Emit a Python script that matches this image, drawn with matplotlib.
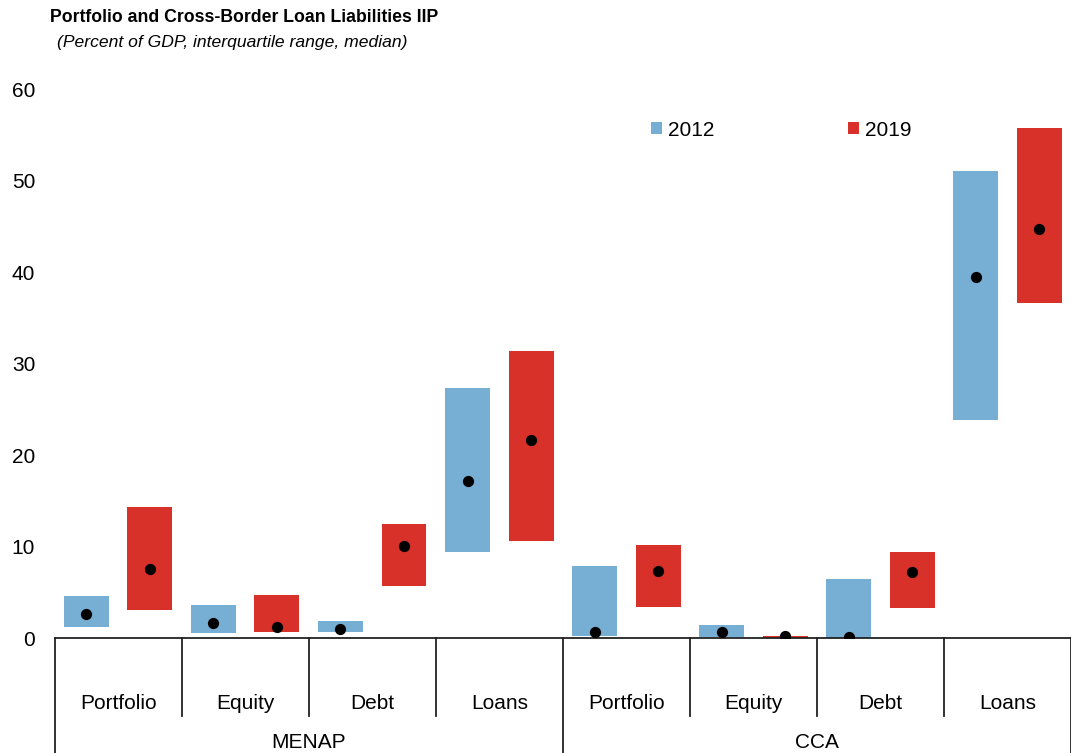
import matplotlib.pyplot as plt
import numpy as np

# Categorias e grupos
categorias = ['Portfolio', 'Equity', 'Debt', 'Loans', 'Portfolio', 'Equity', 'Debt', 'Loans']
grupos = ['MENAP', 'CCA']
anos = ['2012', '2019']

# Intervalo interquartil (q1, q3) e mediana, % do PIB
q1_2012 = [1.23, 0.60, 0.70, 9.40, 0.20, 0.10, 0.00, 23.80]
q3_2012 = [4.60, 3.65, 1.85, 27.30, 7.84, 1.42, 6.41, 51.06]
med_2012 = [2.62, 1.60, 1.00, 17.20, 0.65, 0.62, 0.07, 39.43]

q1_2019 = [3.03, 0.69, 5.68, 10.55, 3.42, 0.05, 3.30, 36.60]
q3_2019 = [14.28, 4.70, 12.50, 31.40, 10.13, 0.20, 9.40, 55.70]
med_2019 = [7.57, 1.24, 10.09, 21.66, 7.36, 0.20, 7.18, 44.75]

AZUL = '#77AED3'
VERMELHO = '#D8312A'
LARGURA = 0.354
DESLOC = 0.25

plt.rcParams['font.family'] = ['Liberation Sans', 'DejaVu Sans']

fig = plt.figure(figsize=(10.71, 7.53), dpi=100)
ax = fig.add_axes([0.051, 0.1527, 0.949, 0.7291])

x = np.arange(len(categorias))

b1 = ax.bar(x - DESLOC, np.array(q3_2012) - np.array(q1_2012), bottom=q1_2012,
            width=LARGURA, color=AZUL, linewidth=0, label=anos[0])
b2 = ax.bar(x + DESLOC, np.array(q3_2019) - np.array(q1_2019), bottom=q1_2019,
            width=LARGURA, color=VERMELHO, linewidth=0, label=anos[1])
ax.scatter(x - DESLOC, med_2012, s=50, color='black', zorder=3)
ax.scatter(x + DESLOC, med_2019, s=50, color='black', zorder=3)

ax.set_xlim(-0.5, len(categorias) - 0.5)
ax.set_ylim(0, 60)
ax.set_yticks(range(0, 61, 10))
ax.tick_params(axis='y', length=0, pad=14, labelsize=15)
ax.set_xticks([])

for s in ['top', 'right', 'left']:
    ax.spines[s].set_visible(False)
ax.spines['bottom'].set_linewidth(1.3)
ax.spines['bottom'].set_color('#222222')

trans = ax.get_xaxis_transform()
# separadores das categorias
n_por_grupo = len(categorias) // len(grupos)
for i in range(len(categorias) + 1):
    xb = i - 0.5
    if i % n_por_grupo == 0:
        y_fim = -0.2095
    else:
        y_fim = -0.142
    ax.plot([xb, xb], [0, y_fim], transform=trans, clip_on=False,
            color='#222222', lw=1.3)

for i, c in enumerate(categorias):
    ax.text(i, -0.12, c, transform=trans, ha='center', va='center', fontsize=15)

for g, nome in enumerate(grupos):
    xc = g * n_por_grupo + (n_por_grupo - 1) / 2
    ax.text(xc, -0.19, nome, transform=trans, ha='center', va='center', fontsize=15)

fig.legend(handles=[b1, b2], loc='center left', bbox_to_anchor=(0.598, 0.8273),
           ncol=2, frameon=False, fontsize=15, handlelength=0.53, handleheight=0.53,
           handletextpad=0.3, columnspacing=6.4, borderpad=0)

fig.text(0.0467, 0.977, 'Portfolio and Cross-Border Loan Liabilities IIP',
         fontsize=12.7, fontweight='bold', ha='left', va='center')
fig.text(0.053, 0.944, '(Percent of GDP, interquartile range, median)',
         fontsize=12.6, style='italic', ha='left', va='center')

fig.savefig('out.png', dpi=100)
